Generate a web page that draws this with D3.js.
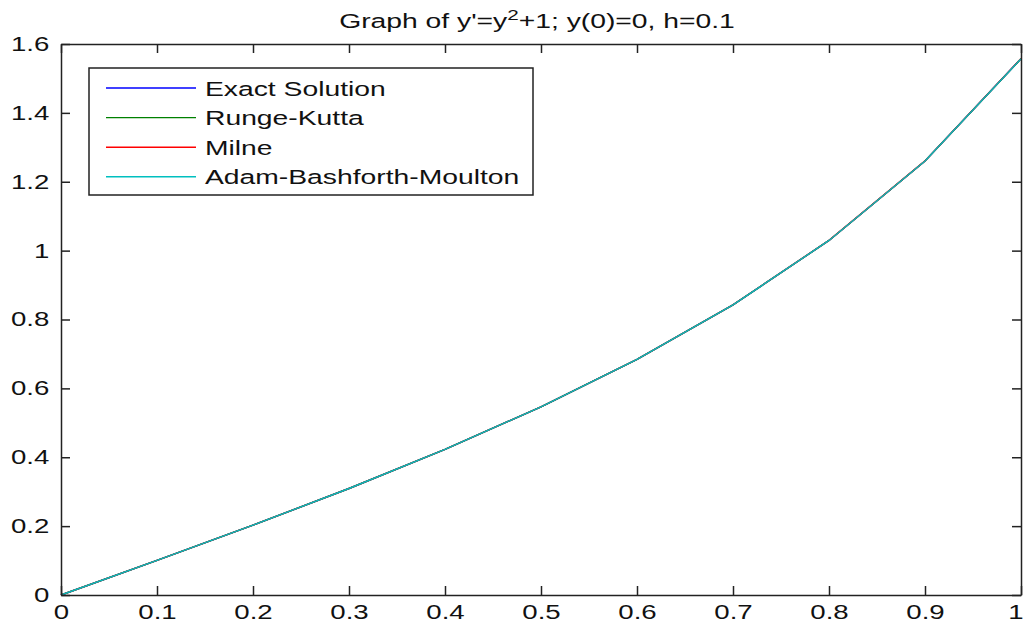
<!DOCTYPE html>
<html>
<head>
<meta charset="utf-8">
<script src="https://cdn.jsdelivr.net/npm/d3@7"></script>
<style>
  body { margin: 0; background: #fff; }
  text { font-family: "Liberation Sans", Arial, sans-serif; fill: #111; }
</style>
</head>
<body>
<div class="center"></div>
<script>
// canvas and plot box (MATLAB-style figure, stretched wide)
const W = 1023, H = 626;
const margin = {top: 44, right: 2, bottom: 31, left: 61};
const width = W - margin.left - margin.right;
const height = H - margin.top - margin.bottom;
const SX = 1.38; // horizontal stretch of the text in the picture

// data (h = 0.1)
const xs = [0, 0.1, 0.2, 0.3, 0.4, 0.5, 0.6, 0.7, 0.8, 0.9, 1.0];
const exact = [0, 0.1003, 0.2027, 0.3093, 0.4228, 0.5463, 0.6841, 0.8423, 1.0296, 1.2602, 1.5574];
const rungeKutta = [0, 0.1003, 0.2027, 0.3093, 0.4228, 0.5463, 0.6841, 0.8423, 1.0296, 1.2601, 1.5570];
const milne = [0, 0.1003, 0.2027, 0.3093, 0.4229, 0.5464, 0.6842, 0.8425, 1.0299, 1.2606, 1.5580];
const abm = [0, 0.1003, 0.2027, 0.3093, 0.4228, 0.5463, 0.6841, 0.8423, 1.0296, 1.2602, 1.5572];

const seriesNames = ["Exact Solution", "Runge-Kutta", "Milne", "Adam-Bashforth-Moulton"];
const seriesColors = ["#0000ff", "#008000", "#ff0000", "#00bfbf"];
const seriesValues = [exact, rungeKutta, milne, abm];

const xTicks = [0, 0.1, 0.2, 0.3, 0.4, 0.5, 0.6, 0.7, 0.8, 0.9, 1];
const yTicks = [0, 0.2, 0.4, 0.6, 0.8, 1, 1.2, 1.4, 1.6];

const xScale = d3.scaleLinear().domain([0, 1]).range([0, width]);
const yScale = d3.scaleLinear().domain([0, 1.6]).range([height, 0]);

const svg = d3.select(".center").append("svg")
    .attr("width", W)
    .attr("height", H)
    .append("g")
    .attr("transform", `translate(${margin.left},${margin.top})`);

// lines
const line = d3.line()
    .x((d, i) => xScale(xs[i]))
    .y(d => yScale(d));

seriesValues.forEach(function(vals, k) {
    svg.append("path")
       .datum(vals)
       .attr("fill", "none")
       .attr("stroke", seriesColors[k])
       .attr("stroke-width", 1.4)
       .attr("d", line);
});

// axes with inward ticks on all four sides
const tickFmt = d => d3.format("~g")(d);
const xAxis = svg.append("g")
    .attr("transform", `translate(0,${height})`)
    .call(d3.axisBottom(xScale).tickValues(xTicks).tickFormat(tickFmt)
          .tickSizeInner(-9).tickSizeOuter(0).tickPadding(10));
const yAxis = svg.append("g")
    .call(d3.axisLeft(yScale).tickValues(yTicks).tickFormat(tickFmt)
          .tickSizeInner(-9).tickSizeOuter(0).tickPadding(8.5));
svg.append("g")
    .call(d3.axisTop(xScale).tickValues(xTicks).tickFormat("")
          .tickSizeInner(-9).tickSizeOuter(0));
svg.append("g")
    .attr("transform", `translate(${width},0)`)
    .call(d3.axisRight(yScale).tickValues(yTicks).tickFormat("")
          .tickSizeInner(-9).tickSizeOuter(0));

svg.selectAll(".domain, .tick line")
   .attr("stroke", "#222")
   .attr("stroke-width", 1.5);
svg.selectAll(".tick text")
   .attr("font-family", "Liberation Sans, Arial, sans-serif")
   .attr("font-size", "20px")
   .attr("fill", "#111")
   .attr("transform", `scale(${SX},1)`);
xAxis.selectAll(".tick text").attr("dy", "0.72em");
// the last x label sits at the figure's edge
xAxis.selectAll(".tick text").filter(d => d === 1)
   .attr("text-anchor", "end")
   .attr("x", 2 / SX);

// title with superscript
const title = svg.append("text")
   .attr("transform", `translate(${(width / 2) - 4},-16) scale(${SX},1)`)
   .attr("text-anchor", "middle")
   .attr("font-size", "20.5px");
title.append("tspan").text("Graph of y'=y");
title.append("tspan").attr("dy", -8).attr("font-size", "15px").text("2");
title.append("tspan").attr("dy", 8).text("+1; y(0)=0, h=0.1");

// legend
const lg = svg.append("g").attr("transform", `translate(${89 - margin.left},${68 - margin.top})`);
lg.append("rect")
  .attr("width", 444)
  .attr("height", 127)
  .attr("fill", "#fff")
  .attr("stroke", "#222")
  .attr("stroke-width", 1.5);

lg.selectAll("line.key")
  .data(seriesNames)
  .enter().append("line")
  .attr("x1", 17)
  .attr("x2", 107)
  .attr("y1", (d, i) => 20 + i * 29.6)
  .attr("y2", (d, i) => 20 + i * 29.6)
  .attr("stroke", (d, i) => seriesColors[i])
  .attr("stroke-width", 1.4);

lg.selectAll("text.key")
  .data(seriesNames)
  .enter().append("text")
  .attr("transform", (d, i) => `translate(116,${27.5 + i * 29.6}) scale(${SX},1)`)
  .attr("font-size", "20.5px")
  .text(d => d);
</script>
</body>
</html>
